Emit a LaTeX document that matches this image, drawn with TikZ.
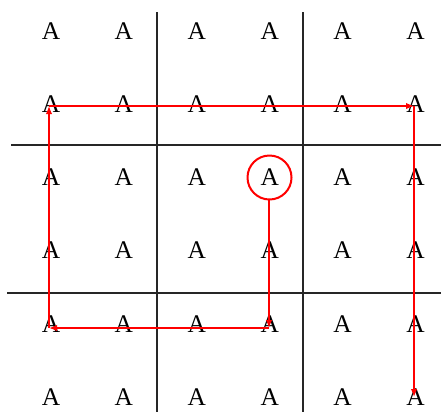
\documentclass[tikz,border=0pt]{standalone}
\usepackage{fontspec}
\setmainfont{Liberation Serif}
\usetikzlibrary{arrows.meta}
\begin{document}
\begin{tikzpicture}[x=1bp,y=-1bp,
  letter/.style={inner sep=0pt,font=\fontsize{25.5}{27}\selectfont},
  gridline/.style={line width=1.3bp,black!85},
  route/.style={draw=red,line width=1.5bp,-{Latex[length=8bp,width=6.5bp]}},
  ring/.style={circle,draw=red,line width=2bp,minimum size=44bp,inner sep=0pt}]
\useasboundingbox (0,0) rectangle (442,412);
\foreach \r in {1,...,6}{
  \foreach \c in {1,...,6}{
    \node[letter] (a\r\c) at ({51+72.9*(\c-1)},{31+73.2*(\r-1)}) {A};
  }
}
\node[ring] (ring) at (269.5,177.5) {};
% grid lines
\coordinate (v1t) at (157,12); \coordinate (v1b) at (157,412);
\coordinate (v2t) at (303,12); \coordinate (v2b) at (303,412);
\coordinate (h1l) at (11,145); \coordinate (h1r) at (441,145);
\coordinate (h2l) at (7,293); \coordinate (h2r) at (441,293);
\draw[gridline] (v1t) -- (v1b);
\draw[gridline] (v2t) -- (v2b);
\draw[gridline] (h1l) -- (h1r);
\draw[gridline] (h2l) -- (h2r);
% route corners (in the letters a54, a51, a21, a26, a66)
\coordinate (s0) at (269,199.5);
\coordinate (p1) at (269,328);
\coordinate (p2) at (49,328);
\coordinate (p3) at (49,106);
\coordinate (p4) at (414,106);
\coordinate (p5) at (414,397);
\draw[route] (s0) -- (p1);
\draw[route] (p1) -- (p2);
\draw[route] (p2) -- (p3);
\draw[route] (p3) -- (p4);
\draw[route] (p4) -- (p5);
\end{tikzpicture}
\end{document}
